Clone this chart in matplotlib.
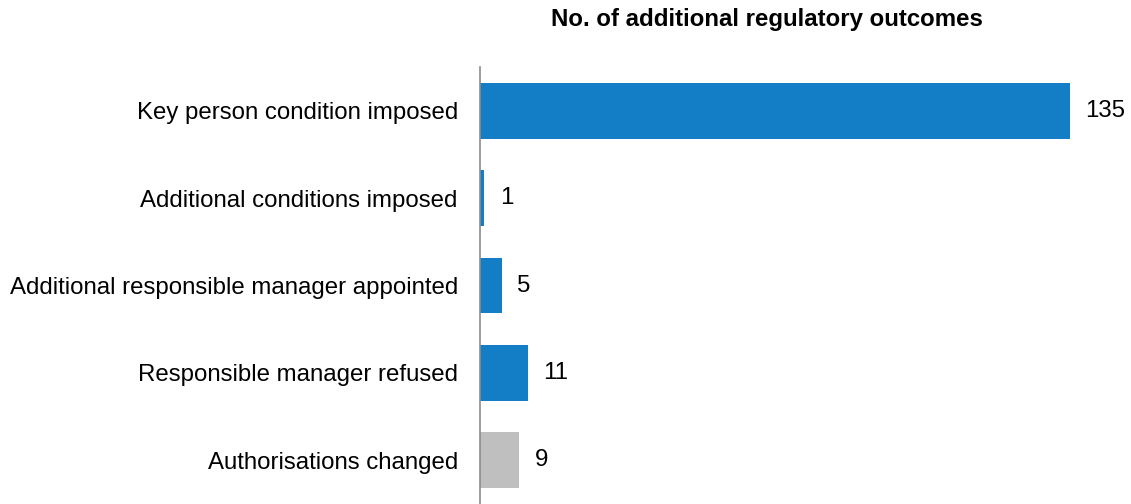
import matplotlib
matplotlib.use("Agg")
import matplotlib.pyplot as plt

plt.rcParams['font.family'] = ['Liberation Sans', 'DejaVu Sans']

categories = ["Key person condition imposed",
              "Additional conditions imposed",
              "Additional responsible manager appointed",
              "Responsible manager refused",
              "Authorisations changed"]
values = [135, 1, 5, 11, 9]
colors = ["#137dc5", "#137dc5", "#137dc5", "#137dc5", "#bfbfbf"]


def main():
    fig = plt.figure(figsize=(11.31, 5.04), dpi=100)
    ax = fig.add_axes([0.4244, 0.0, 0.5603, 0.867])

    ypos = list(range(len(categories)))
    ax.barh(ypos, values, height=0.64, color=colors)
    ax.set_ylim(4.5, -0.5)
    ax.set_xlim(0, 145)

    ax.set_yticks(ypos)
    ax.set_yticklabels(categories, fontsize=17.3)
    ax.tick_params(axis='y', length=0, pad=16)
    ax.set_xticks([])

    for s in ['top', 'right', 'bottom']:
        ax.spines[s].set_visible(False)
    ax.spines['left'].set_color('#8c8c8c')
    ax.spines['left'].set_linewidth(1.2)

    for y, v in zip(ypos, values):
        ax.annotate(str(v), (v, y), xytext=(11, 0), textcoords='offset points',
                    va='center', ha='left', fontsize=17.3)

    fig.text(0.678, 0.962, "No. of additional regulatory outcomes",
             ha='center', va='center', fontsize=17.3, fontweight='bold')

    fig.savefig("out.png", dpi=100)


main()
